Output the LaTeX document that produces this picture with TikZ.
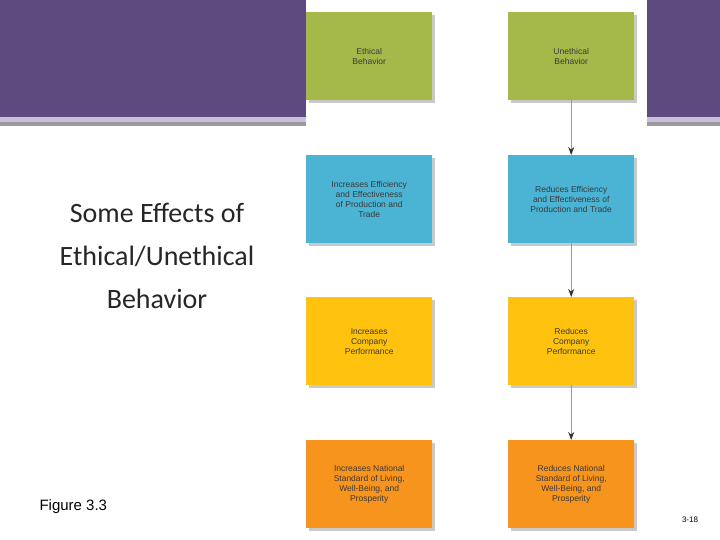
\documentclass[tikz,border=0pt]{standalone}
\usepackage{fontspec}
\setmainfont{Liberation Sans}
\newfontfamily\calfnt{Carlito}
\usetikzlibrary{arrows.meta}
\definecolor{pur}{HTML}{5E4A7E}
\definecolor{lav}{HTML}{C9BEDC}
\definecolor{gline}{HTML}{9A9A9A}
\definecolor{gr}{HTML}{A5B84A}
\definecolor{bl}{HTML}{4BB3D3}
\definecolor{ye}{HTML}{FFC20E}
\definecolor{orr}{HTML}{F7941D}
\definecolor{txt}{HTML}{3A3A3A}
\begin{document}
\begin{tikzpicture}[x=1pt,y=-1pt,
 bx/.style={minimum width=126pt,minimum height=88pt,inner sep=0pt,align=center,text=txt,font=\fontsize{8.5}{10}\selectfont,anchor=north west,
   preaction={fill=black!35,opacity=0.6,transform canvas={xshift=3pt,yshift=-3pt}}},
 ar/.style={draw=gline,line width=1pt,-{Stealth[length=8pt,width=6pt,black!80]}},
 lar/.style={-{Stealth[length=8pt,width=6pt,black!80]},draw=none}]
\useasboundingbox (0,0) rectangle (720,540);
\fill[pur] (0,0) rectangle (720,117);
\fill[lav] (0,117) rectangle (720,122);
\fill[gline] (0,122) rectangle (720,126);
\fill[white] (306,0) rectangle (647,540);
\node[bx,fill=gr] (a1) at (306,12) {Ethical\\Behavior};
\node[bx,fill=gr] (b1) at (508,12) {Unethical\\Behavior};
\node[bx,fill=bl] (a2) at (306,155) {Increases Efficiency\\and Effectiveness\\of Production and\\Trade};
\node[bx,fill=bl] (b2) at (508,155) {Reduces Efficiency\\and Effectiveness of\\Production and Trade};
\node[bx,fill=ye] (a3) at (306,297) {Increases\\Company\\Performance};
\node[bx,fill=ye] (b3) at (508,297) {Reduces\\Company\\Performance};
\node[bx,fill=orr] (a4) at (306,440) {Increases National\\Standard of Living,\\Well-Being, and\\Prosperity};
\node[bx,fill=orr] (b4) at (508,440) {Reduces National\\Standard of Living,\\Well-Being, and\\Prosperity};
\draw[ar] (b1.south) -- (b2.north);
\draw[ar] (b2.south) -- (b3.north);
\draw[ar] (b3.south) -- (b4.north);
\coordinate (c1) at ([yshift=-12pt]a2.north);
\coordinate (c2) at ([yshift=-12pt]a3.north);
\coordinate (c3) at ([yshift=-12pt]a4.north);
\draw[lar] (c1) -- ([yshift=-2pt]a2.north);
\draw[lar] (c2) -- ([yshift=-2pt]a3.north);
\draw[lar] (c3) -- ([yshift=-2pt]a4.north);
\node[align=center,font=\calfnt\fontsize{28}{43}\selectfont,text=black!85] (t) at (157,256) {Some Effects of\\Ethical/Unethical\\Behavior};
\node[anchor=west,font=\fontsize{15}{18}\selectfont] (f) at (36,507) {Figure 3.3};
\node[font=\fontsize{8}{9}\selectfont] (p) at (690,520) {3-18};
\end{tikzpicture}
\end{document}
